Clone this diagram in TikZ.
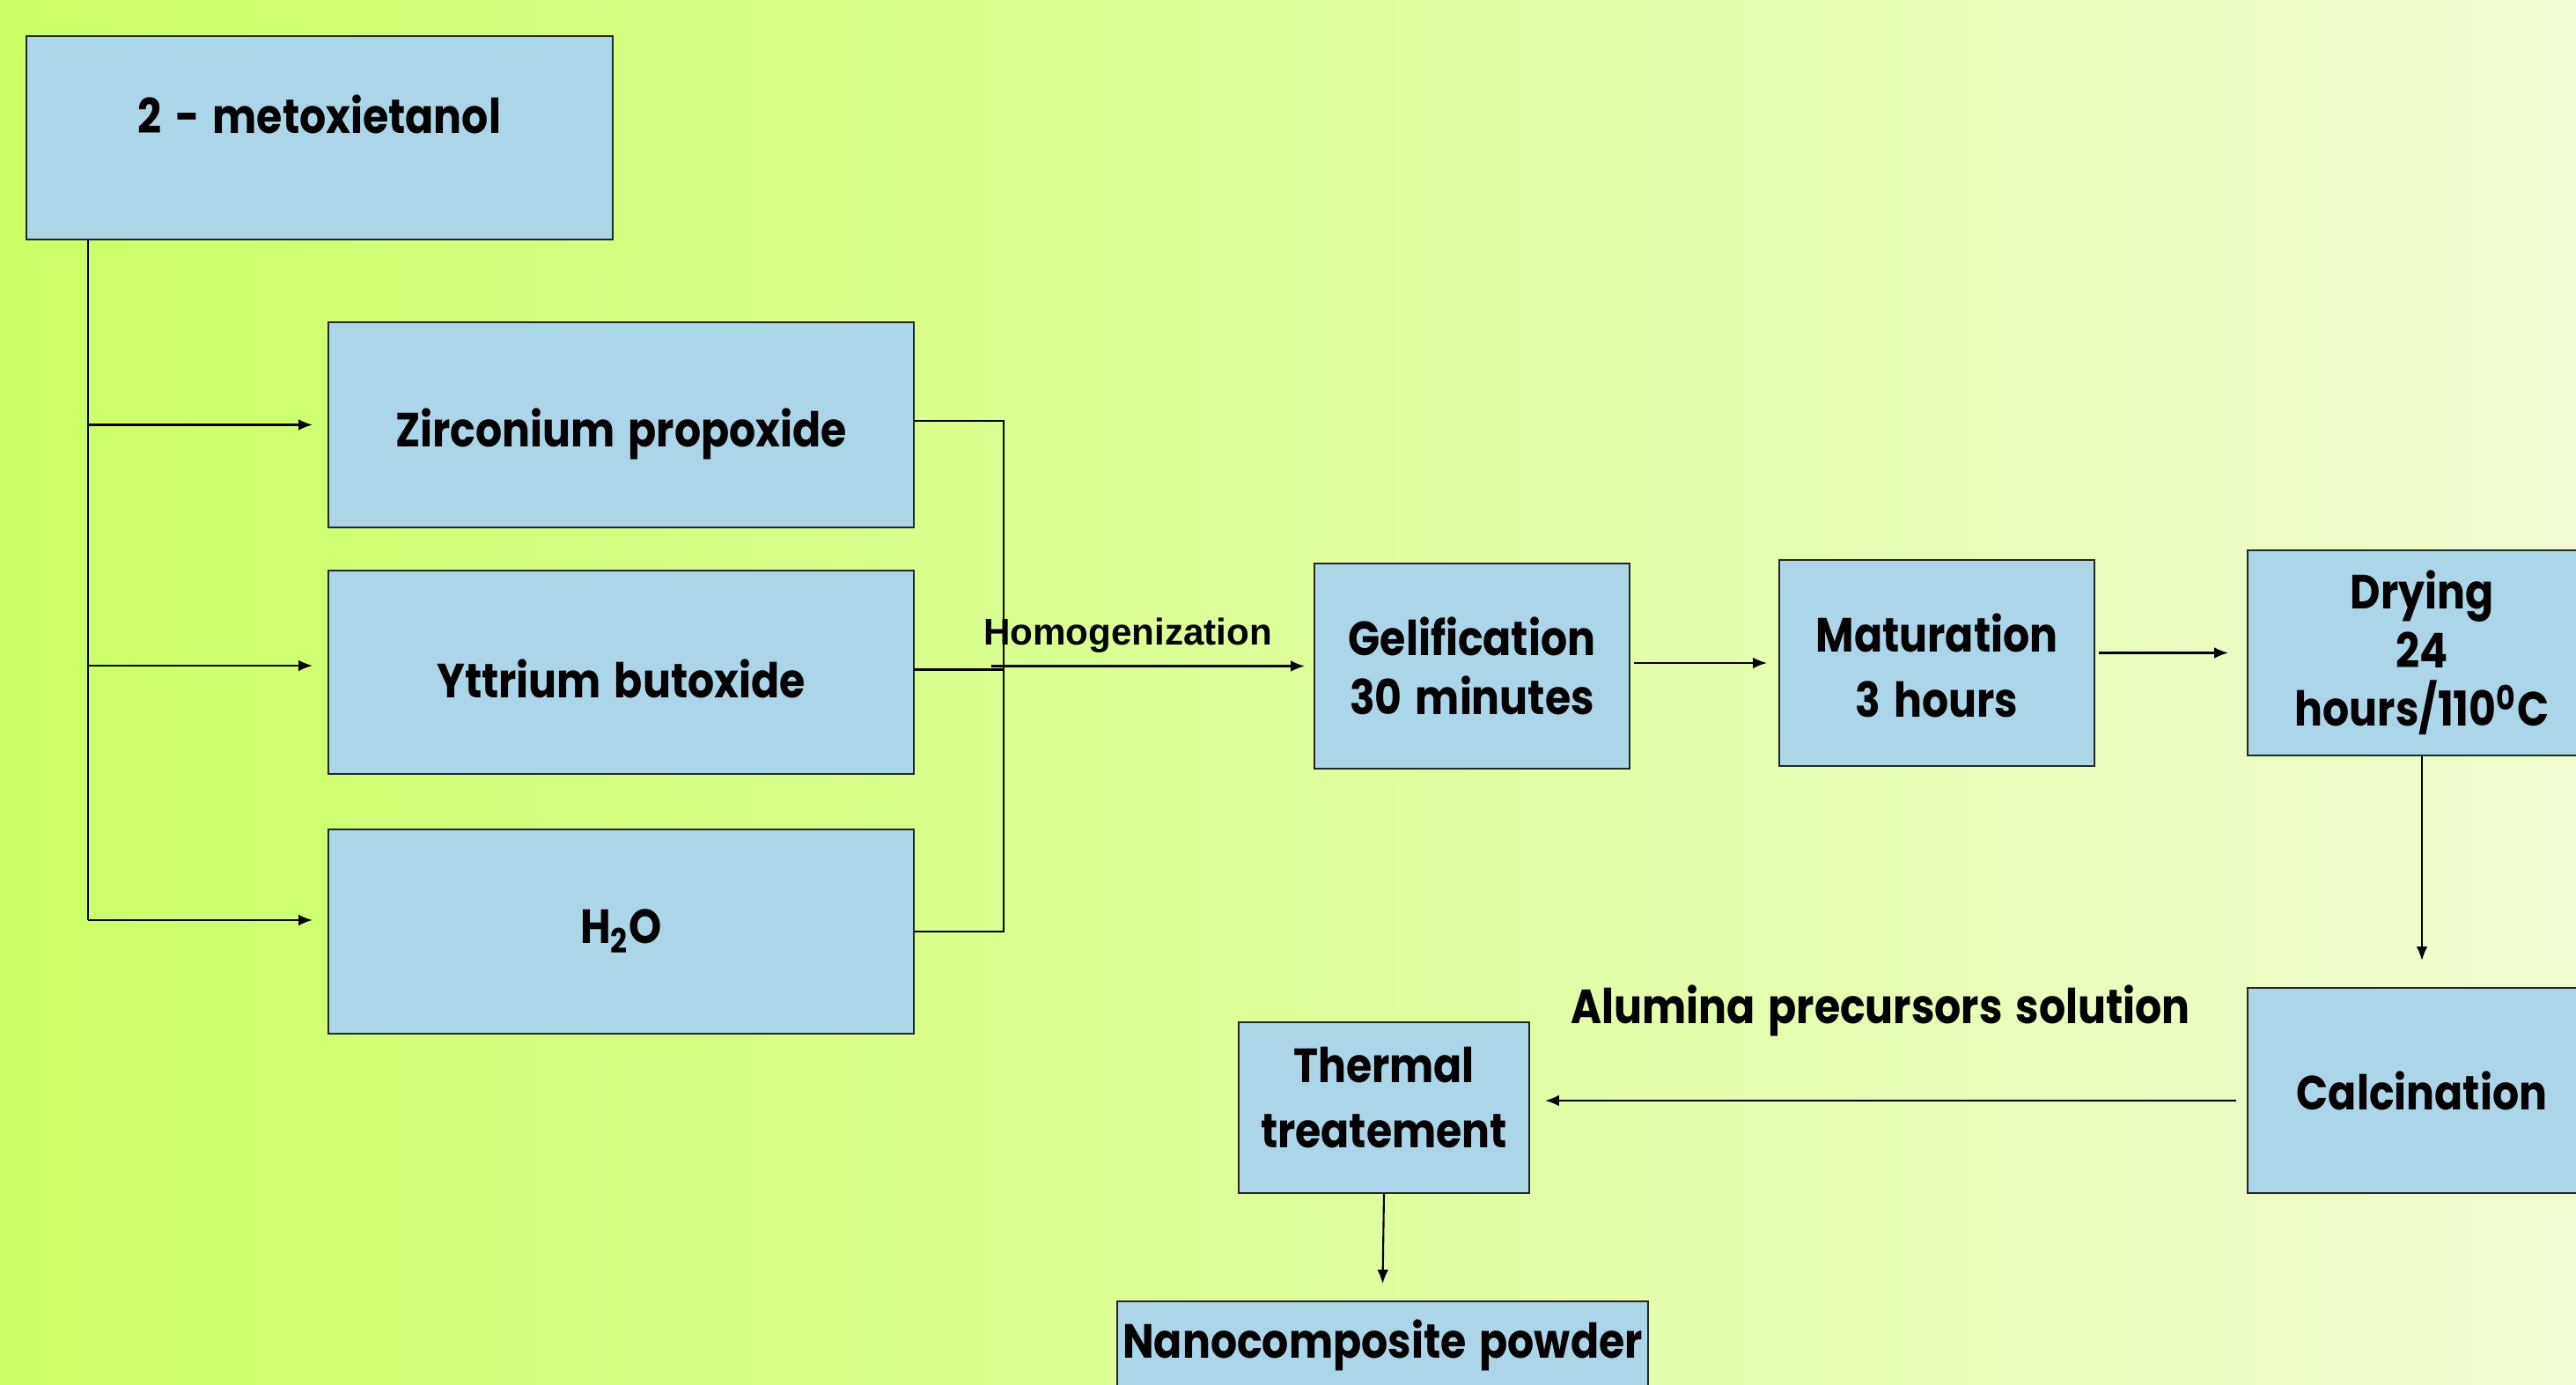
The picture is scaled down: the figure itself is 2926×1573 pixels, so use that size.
\documentclass[tikz,border=0pt]{standalone}
\usepackage{fontspec}
\setmainfont{Poppins}[FakeStretch=0.87,WordSpace=1.5]
\newfontfamily\arialfont{Liberation Sans}
\usetikzlibrary{arrows.meta,calc}
\definecolor{bgl}{RGB}{204,255,102}
\definecolor{bgr}{RGB}{240,252,208}
\definecolor{boxfill}{RGB}{170,214,232}
\begin{document}
\begin{tikzpicture}[x=0.1mm,y=-0.1mm,
  box/.style={draw=black!85, line width=0.6pt, fill=boxfill, font=\bfseries\fontsize{15.5}{19}\selectfont, align=center, inner sep=0pt},
  conn/.style={line width=0.6pt},
  arr/.style={conn, -{Latex[length=4.5pt,width=3.6pt]}},
  lbl/.style={font=\bfseries\fontsize{15.5}{19}\selectfont, inner sep=0pt}]
\useasboundingbox (0,0) rectangle (2926,1573);
\clip (0,0) rectangle (2926,1573);
\shade[left color=bgl,right color=bgr] (0,0) rectangle (2926,1573);

\node[box, minimum width=66.6mm, minimum height=23.1mm, text depth=15.5pt] (meth) at (363,156.5) {2 - metoxietanol};
\node[box, minimum width=66.5mm, minimum height=23.3mm, text height=18.5pt] (zr) at (705.5,482.5) {Zirconium propoxide};
\node[box, minimum width=66.5mm, minimum height=23.1mm, text height=16.5pt] (yt) at (705.5,763.5) {Yttrium butoxide};
\node[box, minimum width=66.5mm, minimum height=23.2mm] (h2o) at (705.5,1058) {H\textsubscript{2}O};
\node[box, minimum width=35.8mm, minimum height=23.3mm] (gel) at (1672,756.5) {Gelification\\30 minutes};
\node[box, minimum width=35.8mm, minimum height=23.4mm] (mat) at (2200,753) {\rule{0pt}{14pt}Maturation\\[2pt]3 hours};
\node[box, minimum width=39.6mm, minimum height=23.3mm] (dry) at (2751,741.5) {Drying\\24\\hours/110\textsuperscript{0}C};
\node[box, minimum width=39.6mm, minimum height=23.3mm] (calc) at (2751,1238.5) {Calcination};
\node[box, minimum width=33mm, minimum height=19.4mm, text depth=6.4pt] (therm) at (1572,1258) {Thermal\\[2pt]treatement};
\node[box, minimum width=60.3mm, minimum height=10mm] (nano) at (1570.5,1528) {Nanocomposite powder};

% left trunk
\coordinate (trunk) at ([xshift=7.1mm]meth.south west);
\coordinate (tend) at ([yshift=1.3mm]trunk |- h2o.west);
\draw[conn] (trunk) -- (tend);
\draw[arr] (trunk |- zr.west) -- ([xshift=-1.7mm]zr.west);
\draw[arr] ([yshift=0.75mm]trunk |- yt.west) -- ([xshift=-1.7mm,yshift=0.75mm]yt.west);
\draw[arr] (tend) -- ([xshift=-1.7mm,yshift=1.3mm]h2o.west);

% merge
\draw[conn] ([yshift=0.45mm]zr.east) -- ++(10.1mm,0) coordinate (mt) -- (mt |- h2o.east) -- (h2o.east);
\draw[conn] ([yshift=0.3mm]yt.east) -- ++(10.2mm,0);
\draw[arr] ([xshift=-1.4mm]mt |- gel.west) -- ([xshift=-1mm]gel.west);
\node[font=\arialfont\bfseries\fontsize{12}{14}\selectfont, inner sep=0pt, anchor=base] (hom) at (1281,733) {Homogenization};

% process chain
\draw[arr] ([xshift=0.4mm]gel.east |- mat.west) -- ([xshift=-1.3mm]mat.west);
\draw[arr] ([xshift=0.4mm]mat.east |- dry.west) -- ([xshift=-2.1mm]dry.west);
\draw[arr] (dry.south) -- ([yshift=3mm]calc.north);
\coordinate (ct) at ([yshift=-1.15mm]calc.west);
\draw[arr] ([xshift=-1.2mm]ct) -- ($(ct -| therm.east)+(1.7mm,0)$);
\node[lbl] (alu) at (2136,1148) {Alumina precursors solution};
\draw[arr] (therm.south) -- ([yshift=1.9mm]nano.north);
\end{tikzpicture}
\end{document}
